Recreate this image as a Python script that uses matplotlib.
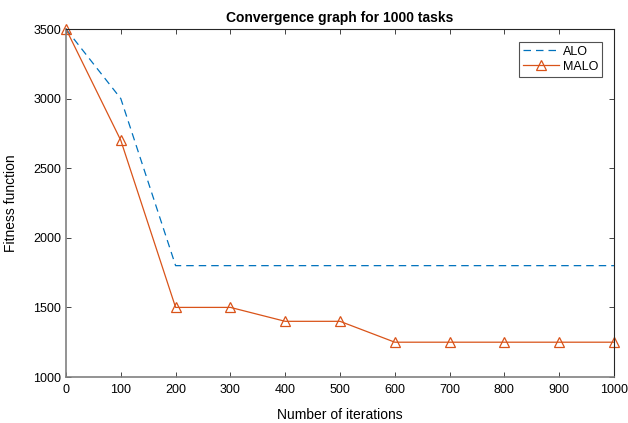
import matplotlib
matplotlib.use("Agg")
import matplotlib.pyplot as plt

plt.rcParams['font.family'] = ['Liberation Sans', 'DejaVu Sans']

iterations = [0, 100, 200, 300, 400, 500, 600, 700, 800, 900, 1000]
alo = [3500, 3000, 1800, 1800, 1800, 1800, 1800, 1800, 1800, 1800, 1800]
malo = [3500, 2700, 1500, 1500, 1400, 1400, 1250, 1250, 1250, 1250, 1250]
xticks = [0, 100, 200, 300, 400, 500, 600, 700, 800, 900, 1000]
yticks = [1000, 1500, 2000, 2500, 3000, 3500]

fig = plt.figure(figsize=(6.28, 4.23), dpi=100)
ax = fig.add_axes([66 / 628, 1 - 377 / 423, 548 / 628, 348 / 423])

ax.plot(iterations, alo, linestyle=(0, (6, 4)), color='#0072BD', linewidth=0.9, label='ALO')
ax.plot(iterations, malo, color='#D95319', linewidth=0.9, marker='^', markersize=7,
        markerfacecolor='none', markeredgecolor='#D95319', markeredgewidth=0.9, label='MALO',
        clip_on=False)

ax.set_xlim(0, 1000)
ax.set_ylim(1000, 3500)
ax.set_xticks(xticks)
ax.set_yticks(yticks)
ax.tick_params(direction='in', top=True, right=True, labelsize=9, length=3.6, width=0.6,
               colors='#262626', labelcolor='black')
ax.tick_params(axis='x', pad=5)
ax.tick_params(axis='y', pad=3.5)
for side in ['top', 'right']:
    ax.spines[side].set_linewidth(0.8)
    ax.spines[side].set_color('#262626')
for side in ['left', 'bottom']:
    ax.spines[side].set_linewidth(1.2)
    ax.spines[side].set_color('#808080')

ax.set_title('Convergence graph for 1000 tasks', fontsize=10, fontweight='bold', pad=5)
ax.set_xlabel('Number of iterations', fontsize=10)
ax.set_ylabel('Fitness function', fontsize=10)
ax.xaxis.set_label_coords(0.5, -0.089)
ax.yaxis.set_label_coords(-0.0876, 0.5)

leg = ax.legend(loc='upper right', fontsize=9, frameon=True, fancybox=False,
                edgecolor='#262626', handlelength=2.9, handletextpad=0.3,
                borderpad=0.3, labelspacing=0.25, borderaxespad=0,
                bbox_to_anchor=(0.978, 0.963))
leg.get_frame().set_linewidth(0.8)

fig.savefig('out.png', dpi=100)
